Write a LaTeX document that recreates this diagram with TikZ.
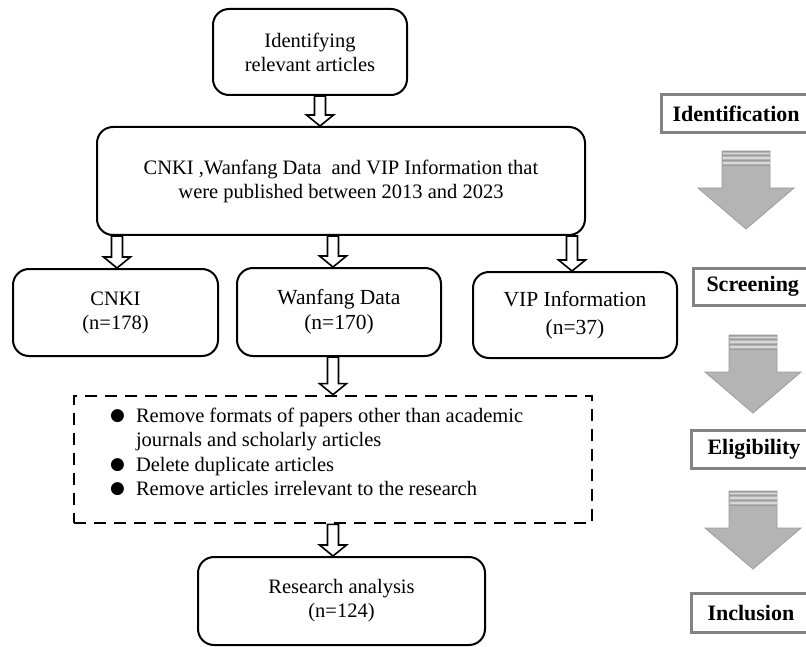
\documentclass[tikz,border=0pt]{standalone}
\usepackage{fontspec}
\setmainfont{Liberation Serif}
\newfontfamily\symfont{DejaVu Sans}
\usetikzlibrary{calc}
\definecolor{arrowgray}{HTML}{B4B4B4}
\definecolor{arrowedge}{HTML}{9C9C9C}
\definecolor{stripelight}{HTML}{D8D8D8}
\definecolor{labeledge}{HTML}{838383}
\newcommand\harrow[3]{%
  \draw[hollowarrow] let \p1=(#1), \p2=(#2) in
    (#3pt-5.5pt,\y1) -- (#3pt+5.5pt,\y1) -- (#3pt+5.5pt,\y2+11pt) -- (#3pt+13.5pt,\y2+11pt)
    -- (#3pt,\y2) -- (#3pt-13.5pt,\y2+11pt) -- (#3pt-5.5pt,\y2+11pt) -- cycle;}
\newcommand\grayarrow[2]{%
  \filldraw[fill=arrowgray,draw=arrowedge,line width=0.8pt]
    (#1-24,#2) -- (#1+24,#2) -- (#1+24,#2+37) -- (#1+48,#2+37) -- (#1,#2+78)
    -- (#1-48,#2+37) -- (#1-24,#2+37) -- cycle;
  \foreach \s in {0.8,4.8,9.5,14.5}{\draw[arrowedge,line width=1pt] (#1-24,#2+\s) -- (#1+24,#2+\s);}
  \foreach \s in {2.7,7.1,12}{\draw[stripelight,line width=1.4pt] (#1-23.5,#2+\s) -- (#1+23.5,#2+\s);}}
\newcommand\blt{\raisebox{1.5pt}{\symfont\fontsize{17}{24}\selectfont ●}}
\begin{document}
\begin{tikzpicture}[x=1pt,y=-1pt,
  every node/.style={font=\fontsize{20.5}{24}\selectfont},
  box/.style={draw=black,line width=2pt,rounded corners=16pt,align=center,inner sep=0pt},
  dashbox/.style={draw=black,line width=2.8pt,dash pattern=on 12pt off 8pt,inner sep=0pt},
  label/.style={draw=labeledge,line width=3pt,anchor=west,inner xsep=12pt,minimum height=38pt,
    font=\fontsize{22}{26}\selectfont\bfseries},
  hollowarrow/.style={draw=black,line width=1.6pt,fill=white,line join=miter}]
\clip (0,0) rectangle (806,647);
\fill[white] (0,0) rectangle (806,647);

\node[box,minimum width=194pt,minimum height=86pt] (top) at (310,52) {Identifying\\relevant articles};
\node[box,minimum width=488pt,minimum height=108pt] (big) at (341,181)
  {CNKI ,Wanfang Data\ \ and VIP Information that\\were published between 2013 and 2023};
\node[box,minimum width=205pt,minimum height=87pt] (cnki) at (115.5,312.5) {CNKI\\(n=178)};
\node[box,minimum width=204pt,minimum height=88pt,font=\fontsize{21.5}{25}\selectfont] (wanfang) at (339,312) {Wanfang Data\\(n=170)};
\node[box,minimum width=204pt,minimum height=86pt,font=\fontsize{21.5}{28}\selectfont] (vip) at (575,315) {VIP Information\\(n=37)};
\node[dashbox,minimum width=518pt,minimum height=127pt] (filter) at (333,459.5) {};
\node[anchor=west,inner sep=0pt] (criteria) at (110,454) {%
  \begin{tabular}{@{}l@{\hspace{11pt}}l@{}}
  \blt & Remove formats of papers other than academic\\
   & journals and scholarly articles\\[1pt]
  \blt & Delete duplicate articles\\
  \blt & Remove articles irrelevant to the research
  \end{tabular}};
\node[box,minimum width=287pt,minimum height=88pt] (research) at (341.5,601) {Research analysis\\(n=124)};

\harrow{top.south}{big.north}{320}
\harrow{big.south}{cnki.north}{117}
\harrow{big.south}{wanfang.north}{333}
\harrow{big.south}{vip.north}{572}
\harrow{wanfang.south}{filter.north}{333}
\harrow{filter.south}{research.north}{333}

\node[label,inner xsep=11pt] (ident) at (660,114) {Identification};
\node[label,inner xsep=13pt,minimum height=37pt] (screen) at (692,286.5) {Screening};
\node[label,inner xsep=16pt] (elig) at (690,449) {Eligibility};
\node[label,inner xsep=16pt,minimum height=39pt] (incl) at (690,612.5) {Inclusion};

\grayarrow{746}{151}
\grayarrow{753}{335}
\grayarrow{753}{491}
\end{tikzpicture}
\end{document}
